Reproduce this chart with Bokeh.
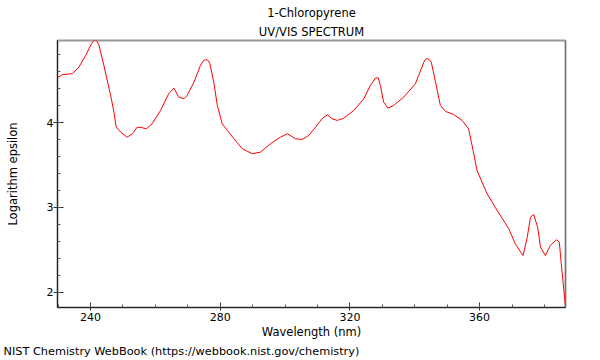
from bokeh.plotting import figure
from bokeh.models import Title, SingleIntervalTicker, Span, Range1d
from bokeh.embed import file_html
from bokeh.resources import INLINE

# ---- data ----
wavelength = [229.8, 231.3, 234.4, 236.4, 238.5, 240.3, 240.9, 241.5, 242.0, 242.6,
              244.1, 246.2, 247.2, 247.9, 249.3, 251.3, 252.9, 254.4, 255.9, 257.2,
              259.0, 261.6, 264.1, 265.7, 267.2, 268.8, 269.8, 271.9, 273.9, 274.9,
              275.7, 276.3, 276.8, 278.0, 279.1, 280.6, 282.2, 284.2, 286.8, 289.9,
              292.4, 295.5, 298.6, 300.7, 303.2, 305.3, 307.3, 309.4, 311.4, 313.0,
              314.5, 316.1, 318.1, 321.2, 324.3, 326.3, 327.9, 328.7, 329.4, 330.4,
              331.7, 333.5, 336.6, 340.2, 341.2, 342.8, 343.3, 343.8, 344.4, 345.1,
              346.4, 347.9, 349.5, 352.0, 354.6, 356.6, 358.0, 359.2, 362.3, 365.4,
              369.0, 371.0, 373.4, 374.7, 375.7, 376.7, 377.9, 378.8, 380.3, 381.8,
              383.7, 384.6, 385.1, 386.5]
log_epsilon = [4.530, 4.567, 4.579, 4.656, 4.795, 4.933, 4.962, 4.975, 4.962, 4.913,
               4.677, 4.322, 4.125, 3.948, 3.889, 3.830, 3.870, 3.948, 3.941, 3.929,
               3.988, 4.145, 4.342, 4.408, 4.302, 4.283, 4.322, 4.479, 4.677, 4.735,
               4.744, 4.735, 4.697, 4.479, 4.204, 3.988, 3.909, 3.811, 3.693, 3.634,
               3.653, 3.752, 3.830, 3.870, 3.811, 3.803, 3.850, 3.948, 4.047, 4.094,
               4.047, 4.027, 4.054, 4.145, 4.283, 4.440, 4.527, 4.531, 4.440, 4.243,
               4.172, 4.204, 4.302, 4.460, 4.558, 4.715, 4.748, 4.756, 4.748, 4.715,
               4.479, 4.204, 4.133, 4.098, 4.027, 3.929, 3.673, 3.437, 3.162, 2.965,
               2.749, 2.571, 2.433, 2.649, 2.885, 2.917, 2.767, 2.531, 2.433, 2.551,
               2.619, 2.590, 2.374, 1.823]

x_start, x_end = 229.8, 386.5
y_start, y_end = 1.82, 4.97

title_text = "1-Chloropyrene"
subtitle_text = "UV/VIS SPECTRUM"
x_label = "Wavelength (nm)"
y_label = "Logarithm epsilon"
footer_text = "NIST Chemistry WebBook (https://webbook.nist.gov/chemistry)"

FONT = "DejaVu Sans"

p = figure(width=600, height=360, output_backend="svg", toolbar_location=None,
           title=None,
           x_range=Range1d(x_start, x_end), y_range=Range1d(y_start, y_end),
           min_border_left=57, min_border_right=35, min_border_top=40,
           min_border_bottom=53)

p.background_fill_color = "white"
p.border_fill_color = "white"
p.outline_line_color = "#999999"
p.outline_line_width = 2
p.xgrid.grid_line_color = None
p.ygrid.grid_line_color = None

p.line(wavelength, log_epsilon, line_color="#ff0000", line_width=1)

# right border darker
p.add_layout(Span(location=x_end, dimension="height", line_color="#555555", line_width=1))

# axes
xa = p.xaxis[0]
xa.ticker = SingleIntervalTicker(interval=40, num_minor_ticks=4)
xa.axis_label = x_label
xa.major_tick_in = 5
xa.major_tick_out = 3
xa.minor_tick_in = 3
xa.minor_tick_out = 0
xa.major_label_standoff = 2
xa.axis_label_standoff = 1

ya = p.yaxis[0]
ya.ticker = SingleIntervalTicker(interval=1, num_minor_ticks=5)
ya.axis_label = y_label
ya.major_tick_in = 6
ya.major_tick_out = 4
ya.minor_tick_in = 3
ya.minor_tick_out = 0
ya.major_label_standoff = 0
ya.axis_label_standoff = 24
ya.axis_label_text_baseline = "bottom"

for ax in (xa, ya):
    ax.axis_line_color = "#222222"
    ax.major_tick_line_color = "#333333"
    ax.minor_tick_line_color = "#555555"
    ax.major_label_text_font = FONT
    ax.major_label_text_font_size = "11px"
    ax.major_label_text_color = "black"
    ax.axis_label_text_font = FONT
    ax.axis_label_text_font_size = "11.5px"
    ax.axis_label_text_font_style = "normal"
    ax.axis_label_text_color = "black"

# titles (first added sits closest to the frame)
p.add_layout(Title(text=subtitle_text, align="center", text_font=FONT,
                   text_font_size="11.5px", text_font_style="normal",
                   text_color="black", standoff=3), "above")
p.add_layout(Title(text=title_text, align="center", text_font=FONT,
                   text_font_size="11.5px", text_font_style="normal",
                   text_color="black", standoff=3), "above")
p.add_layout(Title(text=footer_text, align="left", offset=-54, text_font=FONT,
                   text_font_size="11.3px", text_font_style="normal",
                   text_color="black", standoff=2), "below")

open("out.html", "w").write(file_html(p, INLINE))
